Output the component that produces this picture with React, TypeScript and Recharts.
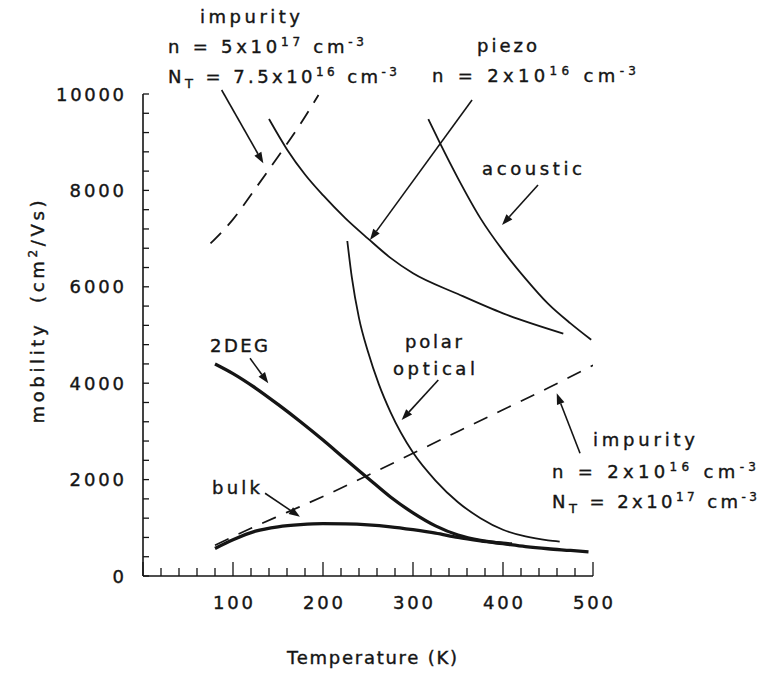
import React from 'react';
import { LineChart, Line, XAxis, YAxis, ReferenceLine } from 'recharts';

// ---- data (Temperature K, mobility cm2/Vs) ----
const impurityHighT = [75, 100, 125, 150, 175, 195];
const impurityHighMu = [6900, 7400, 8040, 8700, 9380, 9980];

const piezoT = [140, 160, 180, 200, 225, 250, 275, 300, 350, 400, 467];
const piezoMu = [9480, 8850, 8330, 7900, 7420, 7000, 6600, 6280, 5850, 5450, 5030];

const acousticT = [317, 330, 350, 375, 400, 425, 450, 475, 498];
const acousticMu = [9480, 8980, 8250, 7420, 6750, 6170, 5650, 5240, 4900];

const polarT = [227, 232, 240, 250, 262, 275, 300, 325, 350, 375, 400, 425, 450, 463];
const polarMu = [6950, 6200, 5350, 4650, 3980, 3400, 2560, 1980, 1530, 1200, 960, 820, 740, 715];

const impurityLowT = [80, 120, 160, 200, 250, 300, 350, 400, 450, 500];
const impurityLowMu = [640, 990, 1320, 1650, 2090, 2545, 3000, 3450, 3900, 4370];

const twoDegT = [80, 100, 125, 150, 175, 200, 225, 250, 275, 300, 325, 350, 375, 400, 410];
const twoDegMu = [4400, 4200, 3900, 3560, 3200, 2820, 2420, 2030, 1640, 1310, 1040, 850, 740, 680, 665];

const bulkT = [80, 100, 125, 150, 175, 200, 225, 250, 275, 300, 325, 350, 375, 400, 425, 450, 475, 495];
const bulkMu = [570, 750, 930, 1020, 1065, 1085, 1080, 1060, 1020, 960, 890, 800, 730, 670, 610, 565, 530, 500];

// axis ticks
const xTicks = [0, 20, 40, 60, 80, 100, 120, 140, 160, 180, 200, 220, 240, 260, 280, 300, 320, 340, 360, 380, 400, 420, 440, 460, 480, 500];
const xLabels = [100, 200, 300, 400, 500];
const yTicks = [0, 400, 800, 1200, 1600, 2000, 2400, 2800, 3200, 3600, 4000, 4400, 4800, 5200, 5600, 6000, 6400, 6800, 7200, 7600, 8000, 8400, 8800, 9200, 9600, 10000];
const yLabels = [0, 2000, 4000, 6000, 8000, 10000];

// annotation arrows (tail -> head), data coordinates
const arrowFromT = [87.4, 365.6, 438.9, 328.1, 485.6, 118.9, 135.6];
const arrowFromMu = [10083, 9876, 8112, 4066, 2546, 4517, 1716];
const arrowToT = [133.7, 252.2, 398.9, 287.4, 459.7, 139.2, 174.4];
const arrowToMu = [8562, 6971, 7282, 3237, 3790, 3998, 1230];

const toPts = (t: number[], m: number[]) => t.map((T, i) => ({ T, mu: m[i] }));

const INK = '#151515';
const FONT = '"DejaVu Sans", "Liberation Sans", Arial, sans-serif';
const TXT = { fontFamily: FONT, fontSize: 18, fill: INK, stroke: INK, strokeWidth: 0.4 };

const XTick = (props: any) => {
  const { x, y, payload } = props;
  const v = payload.value;
  const major = v % 100 === 0;
  return (
    <g>
      <line x1={x} x2={x} y1={y} y2={y - (major ? 14 : 8)} stroke={INK} strokeWidth={1.3} />
      {xLabels.includes(v) && (
        <text x={x} y={y + 33} textAnchor="middle" {...TXT} textLength={40} lengthAdjust="spacing">
          {v}
        </text>
      )}
    </g>
  );
};

const YTick = (props: any) => {
  const { x, y, payload } = props;
  const v = payload.value;
  const s = String(v);
  return (
    <g>
      <line x1={x} x2={x + 6} y1={y} y2={y} stroke={INK} strokeWidth={1.3} />
      {yLabels.includes(v) && (
        <text x={x - 19} y={y + 6.5} textAnchor="end" {...TXT}
          {...(s.length > 1 ? { textLength: s.length * 13.6, lengthAdjust: 'spacing' } : {})}>
          {s}
        </text>
      )}
    </g>
  );
};

const ArrowShape = (props: any) => {
  const { x1, y1, x2, y2 } = props;
  const dx = x2 - x1;
  const dy = y2 - y1;
  const len = Math.hypot(dx, dy) || 1;
  const ux = dx / len;
  const uy = dy / len;
  const L = 11;
  const W = 4;
  const bx = x2 - ux * L;
  const by = y2 - uy * L;
  const pts = `${x2},${y2} ${bx - uy * W},${by + ux * W} ${bx + uy * W},${by - ux * W}`;
  return (
    <g>
      <line x1={x1} y1={y1} x2={bx} y2={by} stroke={INK} strokeWidth={1.6} />
      <polygon points={pts} fill={INK} />
    </g>
  );
};

const Sup = ({ children }: any) => (
  <tspan dy={-7} fontSize={12}>{children}</tspan>
);

const Overlay = () => (
  <svg width={763} height={673} style={{ position: 'absolute', left: 0, top: 0, pointerEvents: 'none' }}>
    <g {...TXT}>
      {/* top-left impurity */}
      <text x={200} y={23} textLength={100} lengthAdjust="spacing">impurity</text>
      <text x={168} y={53} textLength={196} lengthAdjust="spacing">
        n = 5x10<Sup>17</Sup><tspan dy={7}> cm</tspan><Sup>-3</Sup>
      </text>
      <text x={168} y={83} textLength={229} lengthAdjust="spacing">
        N<tspan dy={5} fontSize={13}>T</tspan><tspan dy={-5}> = 7.5x10</tspan><Sup>16</Sup><tspan dy={7}> cm</tspan><Sup>-3</Sup>
      </text>
      {/* piezo */}
      <text x={477} y={52} textLength={60} lengthAdjust="spacing">piezo</text>
      <text x={432} y={82} textLength={204} lengthAdjust="spacing">
        n = 2x10<Sup>16</Sup><tspan dy={7}> cm</tspan><Sup>-3</Sup>
      </text>
      {/* acoustic */}
      <text x={482} y={175} textLength={100} lengthAdjust="spacing">acoustic</text>
      {/* polar optical */}
      <text x={405} y={348} textLength={57} lengthAdjust="spacing">polar</text>
      <text x={393} y={375} textLength={82} lengthAdjust="spacing">optical</text>
      {/* 2DEG & bulk */}
      <text x={210} y={352} textLength={58} lengthAdjust="spacing">2DEG</text>
      <text x={212} y={494} textLength={48} lengthAdjust="spacing">bulk</text>
      {/* right impurity */}
      <text x={593} y={446} textLength={102} lengthAdjust="spacing">impurity</text>
      <text x={552} y={478} textLength={204} lengthAdjust="spacing">
        n = 2x10<Sup>16</Sup><tspan dy={7}> cm</tspan><Sup>-3</Sup>
      </text>
      <text x={552} y={508} textLength={205} lengthAdjust="spacing">
        N<tspan dy={5} fontSize={13}>T</tspan><tspan dy={-5}> = 2x10</tspan><Sup>17</Sup><tspan dy={7}> cm</tspan><Sup>-3</Sup>
      </text>
      {/* axis titles */}
      <text x={372} y={664} textAnchor="middle" textLength={170} lengthAdjust="spacing">Temperature (K)</text>
      <text transform="translate(44,312) rotate(-90)" textAnchor="middle" textLength={223} lengthAdjust="spacing">
        mobility{'\u00A0\u00A0'}(cm<tspan dy={-7} fontSize={12}>2</tspan><tspan dy={7}>/Vs)</tspan>
      </text>
    </g>
  </svg>
);

const series = [
  { key: 'impHigh', data: toPts(impurityHighT, impurityHighMu), w: 1.8, dash: '15 10' },
  { key: 'piezo', data: toPts(piezoT, piezoMu), w: 1.8, dash: undefined },
  { key: 'acoustic', data: toPts(acousticT, acousticMu), w: 1.8, dash: undefined },
  { key: 'polar', data: toPts(polarT, polarMu), w: 1.8, dash: undefined },
  { key: 'impLow', data: toPts(impurityLowT, impurityLowMu), w: 1.7, dash: '15 11' },
  { key: 'twoDeg', data: toPts(twoDegT, twoDegMu), w: 3.3, dash: undefined },
  { key: 'bulk', data: toPts(bulkT, bulkMu), w: 3.3, dash: undefined },
];

export default function App() {
  return (
    <div style={{ position: 'absolute', left: 0, top: 0, width: 763, height: 673, background: '#fff' }}>
      <LineChart width={763} height={673} margin={{ top: 94, right: 170, bottom: 37, left: 63 }}>
        <XAxis
          type="number"
          dataKey="T"
          domain={[0, 500]}
          ticks={xTicks}
          interval={0}
          tick={<XTick />}
          tickLine={false}
          tickSize={0}
          tickMargin={0}
          height={60}
          axisLine={{ stroke: INK, strokeWidth: 1.6 }}
          allowDataOverflow
        />
        <YAxis
          type="number"
          dataKey="mu"
          domain={[0, 10000]}
          ticks={yTicks}
          interval={0}
          tick={<YTick />}
          tickLine={false}
          tickSize={0}
          tickMargin={0}
          width={80}
          axisLine={{ stroke: INK, strokeWidth: 1.6 }}
          allowDataOverflow
        />
        {series.map((s) => (
          <Line
            key={s.key}
            data={s.data}
            dataKey="mu"
            type="monotone"
            stroke={INK}
            strokeWidth={s.w}
            strokeDasharray={s.dash}
            dot={false}
            activeDot={false}
            isAnimationActive={false}
          />
        ))}
        {arrowFromT.map((t, i) => (
          <ReferenceLine
            key={'arr' + i}
            segment={[
              { x: t, y: arrowFromMu[i] },
              { x: arrowToT[i], y: arrowToMu[i] },
            ]}
            ifOverflow="visible"
            shape={ArrowShape}
          />
        ))}
      </LineChart>
      <Overlay />
    </div>
  );
}
